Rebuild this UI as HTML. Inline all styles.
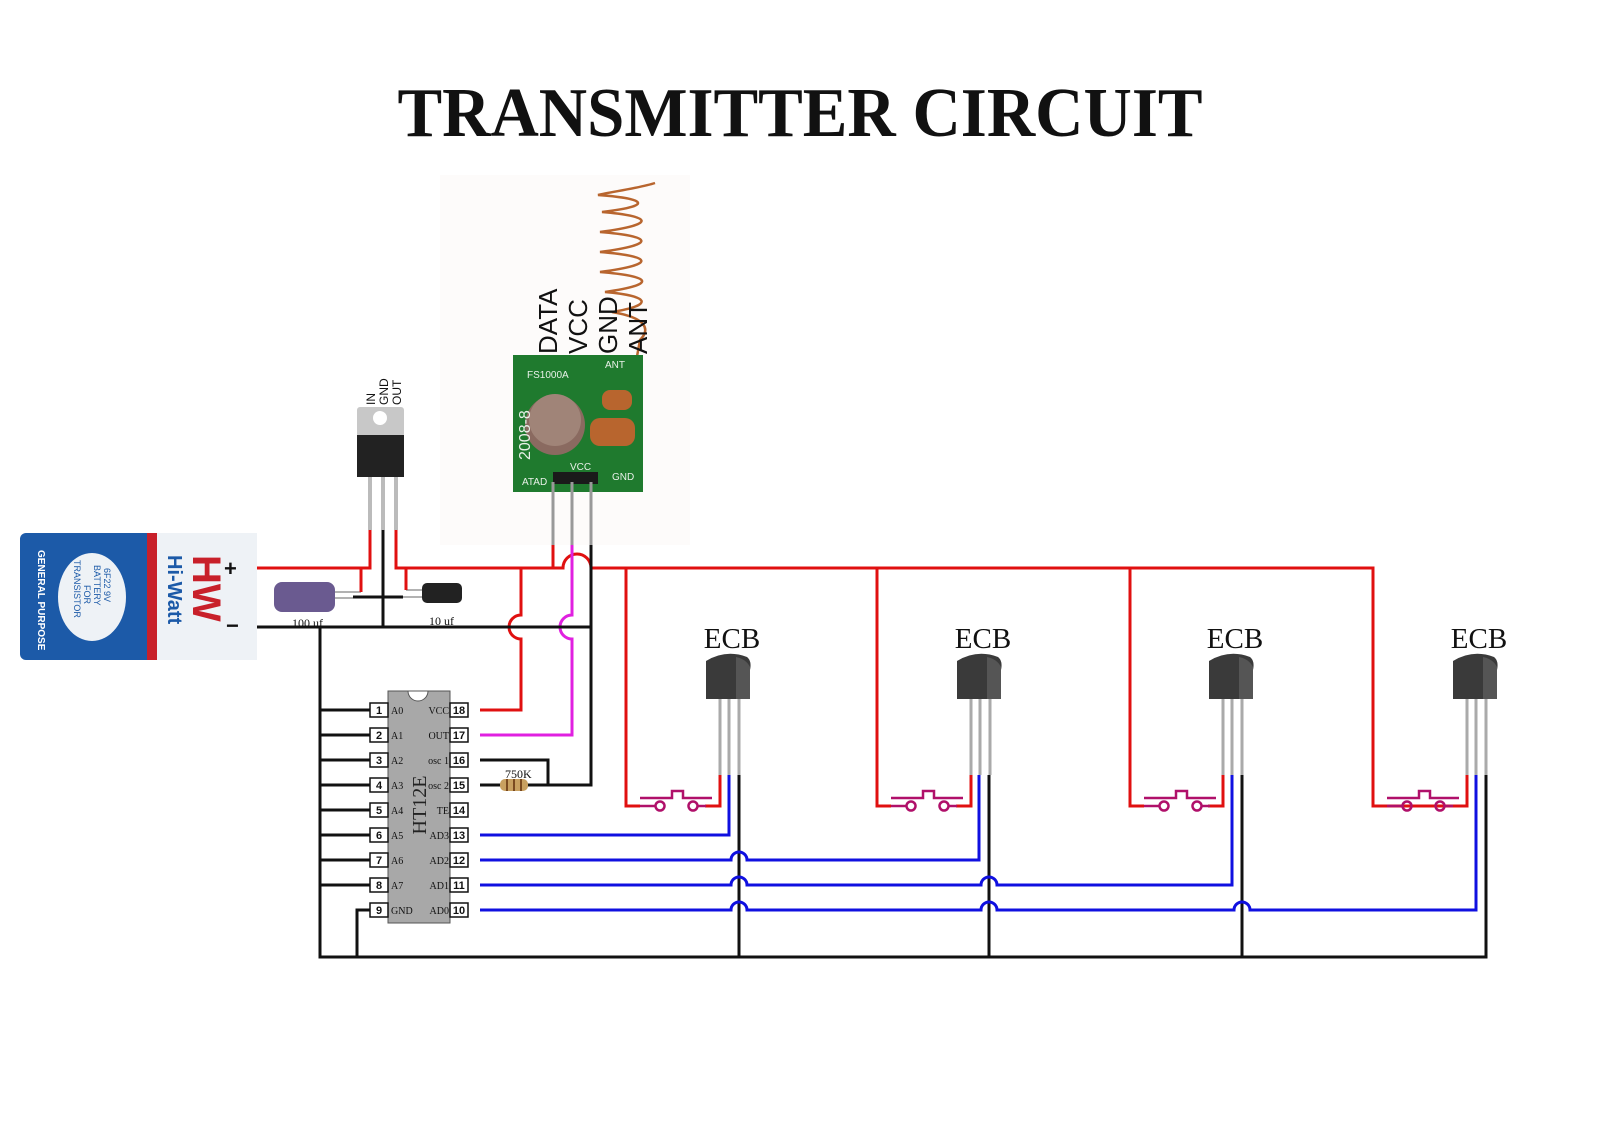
<!DOCTYPE html>
<html><head><meta charset="utf-8"><style>
html,body{margin:0;padding:0;background:#fff;}
svg{display:block;}
</style></head><body>
<svg width="1600" height="1131" viewBox="0 0 1600 1131" xmlns="http://www.w3.org/2000/svg" font-family="Liberation Serif, serif">
<rect width="1600" height="1131" fill="#fff"/>
<text x="800" y="136" text-anchor="middle" font-size="70" font-weight="bold" textLength="805" lengthAdjust="spacingAndGlyphs" fill="#111">TRANSMITTER CIRCUIT</text>

<!-- RF module background -->
<rect x="440" y="175" width="250" height="370" fill="#fdfbfa"/>
<!-- antenna coil -->
<g fill="none" stroke="#b8652e" stroke-width="2.5">
<path d="M655 183 C640 188 610 192 598 195 C640 198 660 205 602 212 C650 216 660 224 600 232 C650 236 660 244 600 252 C650 256 660 264 600 272 C650 276 660 284 605 292 C650 296 655 305 612 312 C648 318 650 330 640 340 L636 362"/>
</g>
<g font-family="Liberation Sans, sans-serif" font-size="26" fill="#111">
<text transform="translate(557,354) rotate(-90)">DATA</text>
<text transform="translate(587,354) rotate(-90)">VCC</text>
<text transform="translate(617,354) rotate(-90)">GND</text>
<text transform="translate(647,354) rotate(-90)">ANT</text>
</g>
<rect x="513" y="355" width="130" height="137" fill="#1f7a2e"/>
<circle cx="555" cy="425" r="30" fill="#8a6a60"/>
<circle cx="555" cy="420" r="26" fill="#a08478"/>
<rect x="590" y="418" width="45" height="28" rx="10" fill="#b8652e"/>
<rect x="602" y="390" width="30" height="20" rx="8" fill="#b8652e"/>
<rect x="553" y="472" width="45" height="12" fill="#1a1a1a"/>
<g font-family="Liberation Sans, sans-serif" font-size="10" fill="#e8f0e8">
<text x="527" y="378">FS1000A</text><text x="605" y="368">ANT</text>
<text x="570" y="470">VCC</text><text x="522" y="485">ATAD</text><text x="612" y="480">GND</text>
<text transform="translate(530,460) rotate(-90)" font-size="16">2008-8</text>
</g>
<g stroke="#999" stroke-width="3"><line x1="553" y1="482" x2="553" y2="545"/><line x1="572" y1="482" x2="572" y2="545"/><line x1="591" y1="482" x2="591" y2="545"/></g>

<!-- Battery -->
<rect x="20" y="533" width="237" height="127" rx="6" fill="#1c5aa8"/>
<rect x="147" y="533" width="110" height="127" fill="#eef2f6"/>
<rect x="147" y="533" width="10" height="127" fill="#c8202a"/>
<ellipse cx="92" cy="597" rx="34" ry="44" fill="#eef2f6"/>
<g font-family="Liberation Sans, sans-serif" fill="#fff" font-size="10" font-weight="bold">
<text transform="translate(38,550) rotate(90)">GENERAL PURPOSE</text>
</g>
<g font-family="Liberation Sans, sans-serif" fill="#1c5aa8" font-size="9">
<text transform="translate(104,568) rotate(90)">6F22 9V</text>
<text transform="translate(94,565) rotate(90)">BATTERY</text>
<text transform="translate(84,585) rotate(90)">FOR</text>
<text transform="translate(74,560) rotate(90)">TRANSISTOR</text>
</g>
<text transform="translate(168,555) rotate(90)" font-family="Liberation Sans, sans-serif" font-size="20" font-weight="bold" fill="#1c5aa8">Hi-Watt</text>
<text transform="translate(193,555) rotate(90)" font-family="Liberation Sans, sans-serif" font-size="40" font-weight="bold" fill="#c8202a">HW</text>
<text x="224" y="576" font-family="Liberation Sans, sans-serif" font-size="22" font-weight="bold" fill="#111">+</text>
<text x="226" y="633" font-family="Liberation Sans, sans-serif" font-size="22" font-weight="bold" fill="#111">−</text>

<!-- Regulator -->
<g font-family="Liberation Sans, sans-serif" font-size="12" fill="#111">
<text transform="translate(375,405) rotate(-90)">IN</text>
<text transform="translate(388,405) rotate(-90)">GND</text>
<text transform="translate(401,405) rotate(-90)">OUT</text>
</g>
<rect x="357" y="407" width="47" height="30" rx="3" fill="#c8c8c8"/>
<circle cx="380" cy="418" r="7" fill="#fff"/>
<rect x="357" y="435" width="47" height="42" fill="#222"/>
<g stroke="#bbb" stroke-width="4"><line x1="370" y1="477" x2="370" y2="530"/><line x1="383" y1="477" x2="383" y2="530"/><line x1="396" y1="477" x2="396" y2="530"/></g>

<!-- Capacitors -->
<rect x="274" y="582" width="61" height="30" rx="8" fill="#6a5a90"/>
<rect x="422" y="583" width="40" height="20" rx="5" fill="#222"/>
<text x="292" y="627" font-size="12" fill="#111">100 uf</text>
<text x="429" y="625" font-size="12" fill="#111">10 uf</text>
<g stroke="#999" stroke-width="1.5"><line x1="335" y1="592" x2="361" y2="592"/><line x1="335" y1="598" x2="353" y2="598"/><line x1="406" y1="590" x2="422" y2="590"/><line x1="403" y1="597" x2="422" y2="597"/></g>

<!-- Wires -->
<g fill="none" stroke-width="3">
<path stroke="#e01010" d="M257 568 H370 V530 M396 530 V568 H563 A14 14 0 0 1 591 568 H1373 V806 H1467 V775 M361 568 V592 M406 568 V590 M553 545 V568"/>
<path stroke="#e01010" d="M521 568 V615 A12 12 0 0 0 521 639 V710 H480"/>
<path stroke="#e01010" d="M626 568 V806 H640 M877 568 V806 H891 M1130 568 V806 H1144"/>
<path stroke="#e01010" d="M720 775 V806 H705 M971 775 V806 H956 M1223 775 V806 H1208 M1467 806 H1452"/>
<path stroke="#e020e0" d="M572 545 V615 A12 12 0 0 0 572 639 V735 H480"/>
<path stroke="#111" d="M257 627 H591 M383 530 V627 M353 597 H403 M591 545 V785 H480 M320 627 V957 H1486 V775 M357 957 V910 H370"/>
<path stroke="#111" d="M320 710 H370 M320 735 H370 M320 760 H370 M320 785 H370 M320 810 H370 M320 835 H370 M320 860 H370 M320 885 H370"/>
<path stroke="#111" d="M480 760 H548 V785 H528 M493 785 H480"/>
<path stroke="#111" d="M739 775 V957 M989 775 V957 M1242 775 V957"/>
<path stroke="#1010e0" d="M480 835 H729 V775"/>
<path stroke="#1010e0" d="M480 860 H731 A8 8 0 0 1 747 860 H979 V775"/>
<path stroke="#1010e0" d="M480 885 H731 A8 8 0 0 1 747 885 H981 A8 8 0 0 1 997 885 H1232 V775"/>
<path stroke="#1010e0" d="M480 910 H731 A8 8 0 0 1 747 910 H981 A8 8 0 0 1 997 910 H1234 A8 8 0 0 1 1250 910 H1476 V775"/>
</g>

<!-- resistor -->
<rect x="500" y="779" width="28" height="12" rx="5" fill="#c8a060"/>
<g stroke="#7a4a20" stroke-width="2"><line x1="507" y1="779" x2="507" y2="791"/><line x1="514" y1="779" x2="514" y2="791"/><line x1="521" y1="779" x2="521" y2="791"/></g>
<text x="505" y="778" font-size="12" fill="#111">750K</text>

<!-- IC -->
<rect x="388" y="691" width="62" height="232" fill="#a8a8a8" stroke="#555"/>
<path d="M408 691 A10 10 0 0 0 428 691 Z" fill="#fff" stroke="#555"/>
<text transform="translate(426,805) rotate(-90)" text-anchor="middle" font-size="20" fill="#222">HT12E</text>
<g font-size="10" fill="#111">
<g stroke="#111" stroke-width="1.5" fill="#fff">
<rect x="370" y="703" width="18" height="14"/><rect x="370" y="728" width="18" height="14"/><rect x="370" y="753" width="18" height="14"/><rect x="370" y="778" width="18" height="14"/><rect x="370" y="803" width="18" height="14"/><rect x="370" y="828" width="18" height="14"/><rect x="370" y="853" width="18" height="14"/><rect x="370" y="878" width="18" height="14"/><rect x="370" y="903" width="18" height="14"/>
<rect x="450" y="703" width="18" height="14"/><rect x="450" y="728" width="18" height="14"/><rect x="450" y="753" width="18" height="14"/><rect x="450" y="778" width="18" height="14"/><rect x="450" y="803" width="18" height="14"/><rect x="450" y="828" width="18" height="14"/><rect x="450" y="853" width="18" height="14"/><rect x="450" y="878" width="18" height="14"/><rect x="450" y="903" width="18" height="14"/>
</g>
<g font-family="Liberation Sans, sans-serif" font-size="11" font-weight="bold" text-anchor="middle">
<text x="379" y="714">1</text><text x="379" y="739">2</text><text x="379" y="764">3</text><text x="379" y="789">4</text><text x="379" y="814">5</text><text x="379" y="839">6</text><text x="379" y="864">7</text><text x="379" y="889">8</text><text x="379" y="914">9</text>
<text x="459" y="714">18</text><text x="459" y="739">17</text><text x="459" y="764">16</text><text x="459" y="789">15</text><text x="459" y="814">14</text><text x="459" y="839">13</text><text x="459" y="864">12</text><text x="459" y="889">11</text><text x="459" y="914">10</text>
</g>
<text x="391" y="714">A0</text><text x="391" y="739">A1</text><text x="391" y="764">A2</text><text x="391" y="789">A3</text><text x="391" y="814">A4</text><text x="391" y="839">A5</text><text x="391" y="864">A6</text><text x="391" y="889">A7</text><text x="391" y="914">GND</text>
<g text-anchor="end"><text x="449" y="714">VCC</text><text x="449" y="739">OUT</text><text x="449" y="764">osc 1</text><text x="449" y="789">osc 2</text><text x="449" y="814">TE</text><text x="449" y="839">AD3</text><text x="449" y="864">AD2</text><text x="449" y="889">AD1</text><text x="449" y="914">AD0</text></g>
</g>

<!-- transistors & switches -->
<defs>
<g id="tr">
<text x="12" y="-127" text-anchor="middle" font-size="29" fill="#111">ECB</text>
<path d="M-14 -114 Q6 -126 27 -118 Q32 -114 30 -105 V-76 H-14 Z" fill="#3a3a3a"/>
<path d="M16 -118 Q26 -116 30 -108 V-76 H16 Z" fill="#555"/>
<g stroke="#aaa" stroke-width="3"><line x1="0" y1="-76" x2="0" y2="0"/><line x1="9" y1="-76" x2="9" y2="0"/><line x1="19" y1="-76" x2="19" y2="0"/></g>
</g>
<g id="sw" fill="none" stroke="#b0106a" stroke-width="2.5">
<line x1="14" y1="806" x2="30" y2="806"/><circle cx="34" cy="806" r="4.5"/>
<line x1="71" y1="806" x2="80" y2="806"/><circle cx="67" cy="806" r="4.5"/>
<path d="M14 798 H46 V791 H57 V798 H86"/>
</g>
</defs>
<use href="#tr" x="720" y="775"/><use href="#tr" x="971" y="775"/><use href="#tr" x="1223" y="775"/><use href="#tr" x="1467" y="775"/>
<use href="#sw" x="626"/><use href="#sw" x="877"/><use href="#sw" x="1130"/><use href="#sw" x="1373"/>
</svg>
</body></html>
